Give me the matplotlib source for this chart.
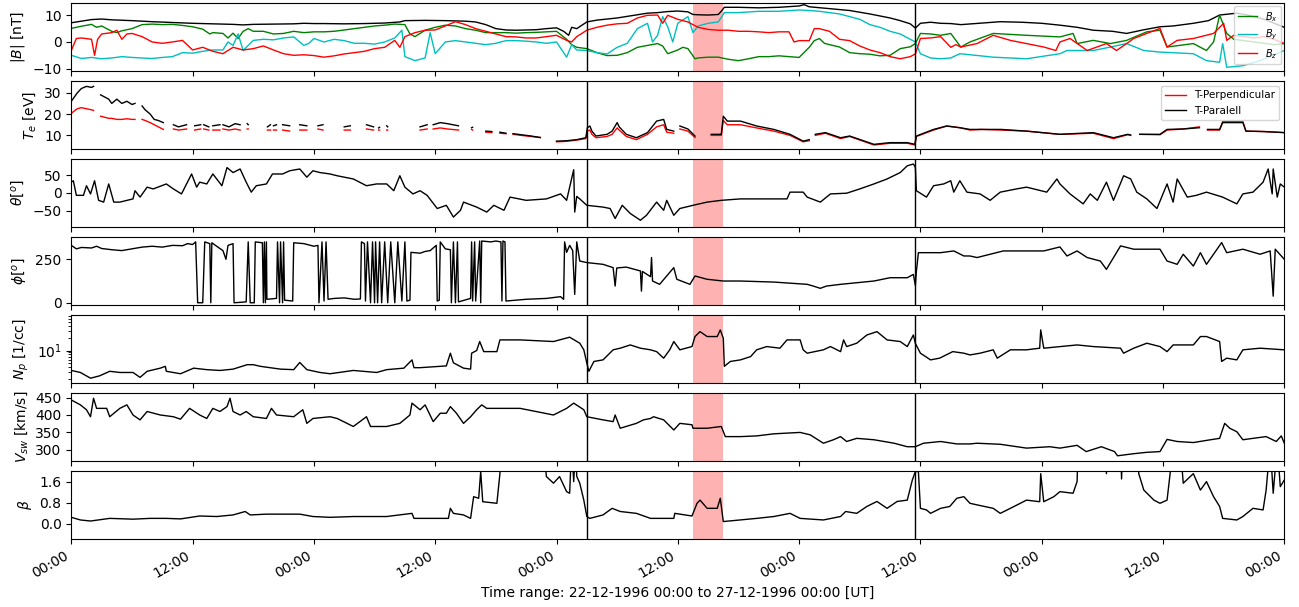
import numpy as np
import matplotlib
matplotlib.use('Agg')
import matplotlib.pyplot as plt
import matplotlib.dates as mdates
from datetime import datetime, timedelta

nan = np.nan
start = datetime(1996, 12, 22)

# (heure depuis le 22-12-1996 00:00, valeur)
bmag = [(0,7.2),(1,7.8),(2,8.4),(3,8.6),(4,8.3),(6,8.0),(8,7.6),(10,7.3),(12,7.0),(14,6.8),(16,6.6),(17,6.4),(18,6.6),(20,6.7),(22,6.8),(23,7.0),(24,6.9),(25,6.9),(27,6.8),(29,6.9),(31,7.1),(32.5,7.5),(33,8.0),(35,8.1),(37,8.0),(39,7.8),(40,7.5),(41,6.5),(42,5.0),(43,4.5),(44,4.4),(46,4.6),(47,5.0),(48,5.3),(48.7,4.0),(49.2,2.5),(49.5,5.5),(50,5.0),(51,7.5),(52,8.2),(53,8.6),(54,9.0),(55,9.6),(56,10.2),(57,10.8),(58,11.0),(59,11.4),(60,11.6),(61,11.3),(61.5,10.3),(62,10.2),(63,10.1),(64,10.3),(64.3,11.5),(64.6,13.0),(66,13.0),(68,12.8),(70,13.0),(72,13.5),(72.5,14.0),(73,13.2),(75,12.5),(77,11.8),(79,10.5),(81,9.0),(82,8.0),(83,6.8),(83.5,5.2),(84,7.0),(85,7.4),(86,7.0),(87,6.9),(88,6.5),(91.9,7.6),(94,7.4),(96,7.0),(97.8,6.3),(99.5,5.5),(101.1,4.4),(103,4.0),(104.4,3.2),(106,4.5),(107.7,5.7),(109,6.0),(111,7.0),(112.5,8.0),(113.6,10.1),(115.3,10.8),(116.5,10.0),(118,8.5),(119,7.0),(120,5.5)]

bx = [(0,5.1),(0.5,5.5),(1,5.9),(2,6.6),(2.5,5.5),(3,6.0),(4,4.0),(4.5,3.5),(5,4.2),(6,5.0),(7,6.5),(8,6.7),(9,6.5),(10,6.6),(11,6.2),(12,5.7),(13,4.8),(13.7,3.0),(14,3.5),(15,3.2),(15.5,1.5),(16,3.3),(16.5,1.3),(17,4.0),(17.5,5.0),(18,4.0),(19,4.0),(20,3.0),(21,3.2),(22,4.0),(23,3.5),(24,3.8),(25,3.8),(26,4.0),(27,4.5),(28,5.0),(29,5.5),(30,6.0),(31,6.3),(32,6.7),(33,6.5),(33.5,3.0),(34,2.0),(35,4.4),(36,5.5),(37,6.3),(38,6.0),(39,5.0),(40,4.4),(41,3.5),(42,3.5),(43,3.5),(44,3.3),(45,3.5),(46,3.6),(47,3.8),(48,4.0),(49,1.0),(49.5,-1.0),(50,-2.0),(51,-2.5),(52,-4.0),(53,-5.1),(54,-5.0),(55,-4.0),(56,-2.0),(57,-1.3),(58,-0.6),(58.5,-1.5),(59,-4.4),(60,-3.0),(60.5,-2.0),(61,-2.5),(61.7,-6.3),(62,-6.0),(63,-5.7),(64,-5.7),(65,-6.5),(66,-7.0),(67,-6.3),(68,-5.5),(69,-5.5),(70,-5.2),(71,-5.5),(72,-5.8),(73,-2.0),(73.5,0.5),(74,1.3),(74.5,-0.5),(75,-1.0),(76,-1.9),(77,-4.0),(78,-4.4),(79,-4.6),(80,-5.2),(81,-5.0),(82,-2.5),(83,-1.8),(83.5,-0.6),(84,3.2),(85,3.0),(86,2.5),(87,3.2),(88,-1.9),(88.9,0.0),(91.2,3.2),(94.5,2.5),(97.8,1.9),(99.1,3.2),(99.5,-0.6),(101.1,0.6),(102.8,-0.6),(104.4,0.6),(106.4,3.8),(107.7,4.4),(108.4,-1.9),(111.0,-0.6),(112.3,-3.2),(113.0,0.0),(113.6,10.1),(114.3,3.2),(115,1.0),(116,0.5),(117,0.0),(118,-0.5),(119,-1.0),(120,-0.6)]

by = [(0,-5.0),(1,-6.2),(2,-5.8),(3,-6.3),(4,-6.0),(5,-5.5),(6,-5.8),(7,-6.0),(8,-6.2),(9,-5.8),(10,-5.5),(11,-4.0),(12,-4.2),(13,-3.5),(14,-3.0),(15,-3.0),(15.5,0.0),(16,-1.3),(16.5,3.0),(17,-3.2),(18,0.6),(19,1.0),(20,0.8),(21,1.5),(22,1.9),(23,-1.3),(23.5,-0.5),(24,1.3),(25,0.0),(26,1.0),(27,0.5),(28,-0.5),(29,-0.5),(30,-0.8),(31,0.0),(32,1.5),(32.7,4.4),(33,-5.5),(34,-7.0),(35,-6.0),(35.5,3.5),(36,-4.4),(37,0.0),(38,0.5),(39,0.0),(40,-0.5),(41,-1.0),(42,-0.5),(43,0.5),(44,0.5),(45,0.3),(46,0.0),(47,-0.5),(48,0.0),(49,-5.7),(49.5,-1.0),(50,-3.0),(51,-3.2),(52,-4.0),(53,-4.5),(54,-2.0),(55,-0.5),(56,5.0),(57,7.0),(57.5,0.0),(58,2.5),(58.5,9.5),(59,5.7),(59.5,0.0),(60,7.0),(61,9.5),(61.5,3.5),(62,6.0),(63,7.0),(64,7.5),(64.6,11.0),(66,11.0),(68,11.5),(70,11.5),(72,12.0),(73,11.8),(74,11.5),(75,11.0),(76,10.5),(77,9.5),(78,8.5),(79,6.5),(80,5.5),(81,4.0),(82,3.0),(83,1.0),(83.5,0.0),(84,-4.4),(85,-6.0),(86,-6.3),(87,-6.0),(87.9,-4.4),(91.2,-5.7),(94.5,-6.3),(97.8,-4.4),(98.5,-3.2),(101.1,-3.2),(102.8,-1.9),(104.4,-0.6),(106.1,-3.2),(107.7,-3.8),(111.0,-4.4),(112.3,-7.0),(113.6,-7.6),(113.9,-0.6),(114.3,-9.5),(115.9,-8.9),(117.6,-7.0),(120.0,-3.2)]

bz = [(0,-3.2),(0.5,1.3),(1,1.5),(2,1.0),(2.3,-5.0),(2.6,1.0),(3,3.0),(4,3.5),(4.5,4.4),(5,1.0),(5.5,3.0),(6,3.2),(7,2.0),(7.5,1.0),(8,0.0),(9,-0.5),(10,0.0),(11,0.6),(12,-3.0),(13,-2.0),(14,-3.5),(15,-4.4),(16,-2.0),(17,-3.0),(18,-2.5),(19,-1.5),(20,-3.0),(21,-4.4),(22,-5.0),(23,-4.8),(24,-5.1),(25,-5.7),(26,-5.2),(27,-4.5),(28,-4.0),(29,-3.5),(30,-2.5),(31,-2.0),(32,0.6),(32.5,-2.0),(33,2.0),(34,3.5),(35,4.4),(36,4.5),(37,6.0),(38,7.6),(39,6.5),(40,5.0),(41,4.0),(42,3.0),(43,2.0),(44,1.9),(45,1.5),(46,1.5),(47,2.0),(48,2.5),(49,0.6),(49.5,0.0),(50,2.0),(51,4.4),(52,5.5),(53,6.3),(54,6.8),(55,7.0),(56,9.0),(57,10.0),(58,10.1),(58.5,7.0),(59,10.0),(60,8.5),(61,7.5),(62,5.5),(63,4.7),(64,4.4),(65,4.4),(66,4.0),(67,4.0),(68,3.8),(69,3.5),(70,3.8),(71,3.8),(71.5,0.0),(72,0.5),(73,0.5),(73.5,5.0),(74,5.0),(75,4.0),(76,1.0),(77,0.5),(78,-1.5),(79,-3.0),(80,-4.0),(81,-5.5),(82,-6.3),(83,-5.5),(83.5,-4.5),(84,1.3),(85,1.5),(86,2.0),(87,-2.0),(87.5,-1.0),(88,-1.9),(89.6,-0.6),(91.2,2.5),(92.9,0.6),(94.5,-0.6),(96.2,-1.9),(97.4,-3.2),(97.8,0.0),(98.8,1.3),(100.5,-3.2),(102.4,-0.6),(103.4,-3.2),(104.4,-0.6),(105.1,1.3),(106.4,3.2),(107.7,5.1),(108.4,-1.9),(109.4,0.6),(111.0,1.3),(113.0,3.2),(114.0,7.0),(114.3,0.6),(115,2.5),(116,2.0),(117,1.5),(118,2.0),(119,1.0),(120,-0.6)]

# (heure, T-Paralell, T-Perpendicular), nan = pas de données
te = [(0,26,20.3),(0.3,28,21.5),(0.6,30,22.5),(1.0,32,23),(1.5,33,22.5),(2.0,32.5,22),(2.2,33,21.7),(2.5,nan,nan),
      (2.9,29,19),(3.3,28,18.5),(3.7,27,18),(4.0,25,18),(4.5,27,17.5),(5.0,25,17.5),(5.5,26,17.8),(6.0,24.5,17.5),(6.3,25,17.5),(6.6,nan,nan),
      (7.0,23.8,17.5),(7.3,22,17),(7.8,20,16),(8.2,17.5,15),(8.6,17,14),(9.1,16,12.8),(9.5,nan,nan),
      (10.1,15,13),(10.6,14,12.5),(11.4,15,13),(11.6,nan,nan),
      (12.2,14.5,12.5),(12.8,15,13),(12.9,nan,nan),
      (13.1,15,13),(13.6,14,12.5),(13.7,nan,nan),
      (14.0,14.5,12.5),(14.7,15,12.5),(14.8,nan,nan),
      (15.0,15,13),(15.6,14,12.5),(16.2,15.5,13),(16.7,15,12.5),(16.8,nan,nan),
      (17.4,15.5,13),(17.5,15,13),(17.6,nan,nan),
      (19.4,14,12.5),(19.7,15,12.5),(19.8,nan,nan),
      (20.0,14.5,12.5),(20.3,15,12.5),(20.4,nan,nan),
      (20.9,15,12.5),(21.6,14.5,12),(21.7,nan,nan),
      (22.6,15,12.5),(23.3,14.5,12.5),(23.4,nan,nan),
      (24.4,14.5,13),(24.9,15,12.5),(25.0,nan,nan),
      (27.0,14,12.5),(27.6,14.5,12.5),(27.7,nan,nan),
      (29.2,15,13),(29.9,14,12.5),(30.0,nan,nan),
      (30.4,13.5,12.5),(30.5,13.8,12.5),(30.6,nan,nan),
      (31.2,14.5,12.5),(31.3,14,12.5),(31.4,nan,nan),
      (34.5,14,12.5),(35.2,15,13),(35.3,nan,nan),
      (35.8,15,13),(36.5,16,13.5),(37.2,15.5,13),(38.3,14.5,12.5),(38.4,nan,nan),
      (39.6,13.6,12.8),(39.7,13.8,12.5),(39.8,nan,nan),
      (41.0,12,11.5),(41.6,11.8,11.3),(41.7,nan,nan),
      (42.4,11.5,11),(43.0,11,10.8),(43.1,nan,nan),
      (43.7,10.8,10.5),(44.5,10.3,10),(45.5,9.7,9.5),(46.4,9,9),(46.5,nan,nan),
      (48.0,7.3,7.0),(49.0,7.5,7.2),(50.0,8.0,7.8),(50.9,8.9,8.5),(51.05,13.6,12),(51.3,14.4,12.5),(51.5,12,10.5),(51.9,9.7,8.9),(53.0,10.5,9.5),(53.5,12,10.5),(54.0,16,13.5),(54.2,14,12.5),(54.9,10.5,9.5),(55.9,8.9,8.0),(57.0,11.3,10.5),(57.9,16.7,14),(58.6,17.5,15),(58.9,12.8,11.5),(59.6,12,11),(59.8,nan,nan),
      (60.2,14.4,13),(61.0,13,12),(61.7,9.7,9),(61.9,nan,nan),
      (63.3,10.5,10),(64.3,10.5,10),(64.5,19,17),(64.9,16.7,15),(66.2,16.7,15),(67.8,14.4,13.5),(69.5,12.8,12),(71.1,10.5,10),(72.4,7.3,7),(73.0,8,7.5),(73.2,nan,nan),
      (73.6,10.5,10),(74.6,11.3,11),(76.1,8.9,8.5),(77.0,9.7,9.5),(79.4,5.8,5.5),(81.0,6.6,6.3),(82.7,6.6,6.3),(83.45,5.8,5.5),(83.6,9.7,9.5),(85.3,12.8,12.5),(86.6,14.4,14.4),(87.9,13.6,13.6),(88.9,12.8,12.5),(90,12.8,12.8),(92,12.8,12.5),(94.5,12,12),(97.8,10.5,10.5),(101.1,11.3,11),(103.1,8.9,8.5),(104.5,10.5,10.3),(104.8,10.2,10),(105.1,nan,nan),
      (105.7,10.5,10.5),(107.7,10.5,10.3),(108.4,12.8,12.5),(110.0,13,13),(111.6,13.6,14),(111.8,nan,nan),
      (112.4,12.8,12.5),(113.6,12.8,12.5),(113.9,16,16.5),(115.9,16,16.5),(116.2,12,12),(118.0,11.8,11.8),(120.0,11.3,11.3)]

theta = [(0,30),(0.2,34),(0.5,-7),(1.2,-7),(1.5,20),(1.9,-3),(2.3,34),(2.7,-21),(3.2,-26),(3.7,25),(4.2,-26),(4.8,-26),(5.5,-21),(6.1,-17),(6.3,6),(6.8,-12),(7.5,16),(8.1,11),(9.4,25),(10.1,11),(10.9,-3),(11.4,25),(11.9,53),(12.4,16),(12.7,30),(13.4,25),(14.0,53),(14.9,20),(15.4,71),(16.0,57),(16.7,67),(17.3,30),(17.8,2),(18.3,20),(19.3,25),(19.9,53),(20.9,53),(21.6,62),(22.6,67),(23.3,44),(23.9,62),(24.6,57),(25.6,53),(26.3,48),(27.9,39),(29.2,20),(30.2,25),(31.2,25),(31.9,6),(32.5,48),(33.0,16),(33.8,-3),(34.5,6),(35.2,-7),(36.2,-44),(37.1,-35),(37.8,-68),(38.5,-49),(38.8,-26),(40.1,-40),(41.1,-54),(41.8,-35),(42.8,-49),(43.4,-12),(45.0,-21),(47.0,-17),(48.4,-3),(49.0,-21),(49.7,65),(49.8,-54),(50.0,-10),(50.3,-17),(51.0,-35),(52.6,-40),(53.3,-44),(53.8,-72),(54.5,-35),(55.3,-58),(56.3,-77),(56.9,-63),(57.9,-26),(58.6,-49),(58.9,-21),(59.6,-63),(60.2,-44),(61.5,-35),(62.9,-26),(64.3,-21),(66.2,-17),(67.8,-17),(70.8,-17),(71.1,2),(72.4,2),(72.8,-12),(74.1,-26),(75.1,-3),(76.7,-1),(78.0,11),(79.4,25),(80.7,39),(82.0,57),(82.7,76),(83.3,81),(83.5,72),(83.6,6),(84.6,-12),(85.3,20),(86.3,25),(87.0,34),(87.3,2),(87.9,34),(88.6,2),(89.9,-3),(90.9,-21),(91.9,2),(93.5,11),(94.5,16),(96.5,2),(97.5,39),(97.8,25),(98.8,-3),(100.1,-31),(100.8,-3),(101.5,-21),(102.4,30),(103.1,-21),(104.1,48),(104.8,39),(105.4,2),(106.4,-17),(107.4,-44),(108.4,25),(109.0,-26),(109.4,39),(110.4,-12),(111.3,-7),(112.3,2),(113.9,-12),(115.3,-31),(115.9,-3),(116.9,2),(117.9,30),(118.4,67),(118.8,-3),(118.9,67),(119.3,-12),(119.6,25),(120.0,16)]

phi = [(0,330),(0.5,310),(1,318),(2,315),(2.5,325),(3,312),(4,305),(5,300),(6,310),(7,320),(8,325),(9,320),(10,330),(11,328),(11.5,340),(12,335),(12.3,350),
       (12.5,0),(13.0,0),(13.2,350),(13.7,340),(13.8,0),(13.9,345),(14.5,320),(15.0,300),(15.3,250),(15.5,330),(16.0,340),(16.1,0),(17.3,5),(17.5,350),(17.7,0),(18.1,0),(18.2,350),(18.9,345),(19.0,0),(19.1,350),(19.2,0),(19.3,350),(19.35,20),(20.3,25),(20.4,350),(20.6,0),(20.7,350),(20.9,0),(21.0,350),(21.1,15),(21.9,10),(22.0,345),(23,340),(24.0,325),(24.4,330),(24.5,0),(24.8,350),(25.0,10),(25.2,350),(25.4,20),(26,25),(27,28),(28,20),(28.6,22),(28.7,350),(29.0,340),(29.1,10),(29.3,350),(29.6,0),(29.8,350),(30.0,0),(30.1,350),(30.3,0),(30.5,350),(30.7,0),(31.0,350),(31.3,0),(31.6,350),(32.0,0),(32.3,350),(32.7,10),(33.0,350),(33.2,10),(33.5,15),(33.6,290),(34.5,285),(35.0,295),(35.5,300),(36.1,330),(36.2,10),(36.4,15),(36.5,350),(37.0,310),(37.5,305),(37.6,0),(37.8,350),(38.0,0),(38.2,350),(38.3,5),(39.5,25),(39.6,350),(39.7,10),(39.9,350),(40.0,10),(40.4,355),(40.5,0),(40.6,355),(41.5,350),(42.0,355),(42.5,350),(42.6,10),(42.7,355),(42.9,350),(43.0,10),(45,20),(47,25),(48.4,35),(48.7,20),(48.8,350),(49.0,290),(49.3,330),(49.6,300),(49.8,48),(50.0,350),(50.3,240),(51.0,231),(52.6,221),(53.6,202),(53.8,96),(53.96,200),(54.9,205),(56.3,183),(56.4,67),(56.5,180),(57.3,150),(57.4,260),(57.5,125),(58.2,106),(59.6,202),(59.9,135),(61.2,106),(61.7,154),(62.9,135),(64.5,125),(66.2,125),(69.5,119),(72.8,106),(73.4,96),(74.1,83),(74.7,96),(76.1,106),(77.7,115),(79.4,125),(81.0,144),(82.7,144),(83.3,163),(83.5,100),(83.6,180),(83.8,288),(86.0,288),(87.3,298),(88.3,269),(88.9,269),(89.6,260),(92.2,298),(96.2,298),(97.8,321),(98.5,269),(99.5,298),(100.5,260),(101.8,240),(102.4,192),(103.1,260),(103.8,327),(105.1,308),(107.7,308),(108.4,240),(109.4,221),(110.0,279),(111.0,211),(111.7,288),(112.3,221),(113.0,279),(113.8,346),(114.3,288),(115.9,308),(117.6,279),(118.6,298),(118.9,38),(119.1,308),(120.0,250)]

npd = [(0,3.25),(0.9,2.9),(1.9,2.1),(2.8,2.4),(3.8,3.1),(4.8,2.9),(6.1,2.9),(6.8,2.2),(7.5,3.1),(8.8,3.7),(9.3,4.1),(9.4,3.1),(10.8,2.7),(12.1,3.7),(13.4,3.4),(14.7,3.25),(16.0,3.5),(17.4,4.5),(18.0,4.5),(18.7,4.1),(20.7,3.5),(22.0,3.4),(22.6,5.1),(23.3,3.4),(24.6,2.9),(25.6,2.7),(27.9,3.25),(30.2,2.9),(31.2,3.4),(32.9,3.7),(33.7,5.9),(33.9,3.8),(34.5,3.8),(37.1,4.2),(37.5,8.6),(37.8,5.0),(38.8,3.7),(39.5,3.5),(39.6,8.6),(40.1,10),(40.4,16.6),(40.8,9.4),(42.1,9.4),(42.4,18.2),(44.4,18.2),(47.7,16.6),(49.3,21.2),(50.3,15.1),(50.7,10.4),(51.0,4.9),(51.2,3.1),(51.7,5.4),(52.6,5.9),(53.6,10.4),(54.3,11.4),(55.3,13.7),(56.3,11.4),(57.3,10.4),(57.9,9.4),(58.6,6.5),(59.2,10.4),(59.6,16.6),(60.2,10.4),(61.4,12.5),(61.7,22),(62.2,29),(62.9,22),(63.9,22),(64.2,32),(64.5,20),(64.6,4.1),(65.2,5.4),(66.2,5.9),(67.2,7.1),(67.8,10.4),(68.8,12.5),(70.1,11.4),(70.8,18.2),(72.1,18.2),(72.4,10.4),(72.8,8.6),(74.4,10.4),(75.1,12.5),(76.1,9.4),(76.4,18.2),(76.7,12.5),(77.7,15.1),(78.7,24),(79.7,29),(80.7,18.2),(82.0,16.6),(82.7,12.5),(83.3,24),(83.5,15),(84.0,8.6),(85.0,5.9),(85.9,6.5),(87.2,9.4),(88.3,8.6),(88.9,7.8),(89.9,8.6),(91.2,10.4),(91.6,6.5),(92.9,10.4),(94.5,10.4),(95.8,11.4),(95.9,32),(96.2,11.4),(97.8,12.5),(99.5,13.7),(101.1,12.5),(103.8,11.4),(104.1,8.6),(105.1,11.4),(106.4,15.1),(107.7,12.5),(108.4,9.4),(109.0,13.7),(111.0,13.7),(111.7,22),(112.3,22),(113.6,16.6),(113.8,5.4),(114.3,6.5),(115.3,5.9),(115.9,10.4),(117.6,11.4),(120.0,10.4)]

vsw = [(0,443),(0.9,429),(1.5,415),(1.9,395),(2.2,448),(2.5,419),(3.5,419),(3.8,395),(4.8,419),(5.5,429),(6.1,400),(6.8,386),(7.5,410),(8.8,400),(10.1,395),(10.8,388),(11.7,419),(12.7,400),(13.4,390),(14.0,419),(14.7,410),(15.4,424),(15.7,448),(16.0,410),(16.7,400),(17.3,410),(18.0,395),(19.3,390),(19.8,419),(20.3,400),(22.0,395),(22.9,415),(23.3,376),(23.9,390),(25.6,395),(26.3,390),(27.9,367),(29.2,395),(29.6,367),(31.2,367),(32.5,376),(33.5,400),(33.7,434),(34.5,415),(35.0,429),(35.8,381),(36.5,405),(37.1,405),(37.5,424),(38.1,405),(38.8,376),(39.5,395),(40.1,415),(40.6,429),(41.1,419),(44.4,419),(47.7,400),(49.0,419),(49.7,434),(50.7,415),(51.0,395),(52.6,386),(53.6,381),(53.8,400),(54.3,362),(55.9,376),(56.6,386),(57.3,390),(57.6,395),(58.6,386),(59.6,357),(60.2,376),(61.4,372),(61.5,362),(62.9,362),(64.3,367),(64.7,338),(66.2,338),(67.8,340),(69.5,346),(72.1,350),(73.1,343),(74.4,319),(75.4,329),(76.1,338),(76.7,324),(77.7,333),(79.4,329),(81.4,319),(82.7,309),(83.5,309),(84.3,319),(86.0,324),(87.6,317),(88.9,317),(89.6,319),(91.9,316),(94.5,305),(96.8,309),(97.8,305),(99.5,313),(100.4,295),(101.9,309),(103.2,295),(103.5,283),(105.1,289),(106.4,293),(107.7,295),(108.4,330),(109.4,324),(111.0,321),(112.7,329),(113.6,333),(114.1,376),(114.6,362),(115.3,352),(115.9,329),(116.9,333),(118.2,338),(119.2,324),(119.7,340),(120.0,319)]

# 3.0 = hors cadre (coupé en haut)
beta = [(0,0.25),(0.9,0.15),(1.9,0.11),(3.8,0.21),(6.1,0.18),(7.8,0.21),(9.4,0.21),(10.8,0.19),(12.7,0.30),(14.4,0.28),(16.0,0.34),(17.2,0.47),(17.7,0.34),(19.3,0.37),(22.6,0.37),(23.9,0.28),(25.6,0.25),(27.9,0.28),(31.2,0.28),(33.7,0.40),(33.9,0.21),(37.3,0.21),(37.5,0.59),(37.8,0.40),(38.8,0.34),(39.5,0.21),(39.8,1.03),(40.3,0.97),(40.5,1.98),(40.7,0.84),(42.1,0.78),(42.4,1.9),(42.6,3.0),(46.7,3.0),(47.0,1.79),(47.7,1.54),(48.3,1.79),(49.0,1.22),(49.3,1.16),(49.5,3.0),(49.7,1.6),(49.9,3.0),(50.0,1.8),(50.3,1.54),(50.7,0.9),(51.0,0.28),(51.3,0.21),(52.6,0.34),(53.5,0.59),(54.3,0.47),(55.9,0.40),(57.3,0.21),(57.9,0.21),(59.6,0.21),(59.7,0.40),(61.4,0.30),(61.9,0.78),(62.2,0.9),(62.9,0.59),(63.9,0.59),(64.2,0.97),(64.5,0.09),(66.2,0.15),(67.8,0.21),(69.5,0.28),(71.1,0.40),(72.1,0.21),(74.4,0.15),(76.1,0.28),(76.6,0.47),(77.7,0.40),(78.7,0.66),(79.7,0.85),(80.7,0.59),(81.7,0.85),(82.7,0.9),(83.2,1.66),(83.5,1.98),(83.8,1.98),(84.0,0.59),(84.6,0.53),(85.0,0.40),(86.0,0.59),(86.9,0.66),(87.6,0.97),(88.3,1.03),(88.9,0.78),(89.6,0.72),(91.2,0.59),(91.9,0.40),(92.9,0.59),(94.5,0.9),(95.8,0.84),(95.9,1.9),(96.2,0.84),(97.2,1.03),(97.8,1.22),(99.1,1.16),(99.5,1.6),(99.6,3.0),(102.3,3.0),(102.4,1.9),(102.5,3.0),(103.8,3.0),(103.9,1.7),(104.0,3.0),(105.4,3.0),(105.6,1.9),(106.1,1.28),(107.1,0.9),(107.7,0.78),(108.4,0.9),(108.7,1.9),(108.9,3.0),(109.7,3.0),(110.0,1.54),(111.0,1.9),(111.7,1.28),(112.3,1.6),(113.0,1.03),(113.6,0.66),(113.9,0.21),(115.3,0.15),(115.9,0.28),(116.9,0.59),(117.9,0.53),(118.2,1.28),(118.6,3.0),(118.9,1.16),(119.3,3.0),(119.6,1.41),(120.0,1.66)]

events = [51.0, 83.5]     # lignes verticales (heures)
shade = (61.5, 64.5)      # zone rouge


def to_dates(hours):
    return [start + timedelta(hours=float(h)) for h in hours]


def split(pairs):
    arr = np.array(pairs, dtype=float)
    return to_dates(arr[:, 0]), arr[:, 1:]


fig, axes = plt.subplots(7, 1, sharex=True, figsize=(12.99, 6.07), dpi=100)
fig.subplots_adjust(left=0.0549, right=0.9887, top=0.995, bottom=0.112, hspace=0.147)

# |B|
ax = axes[0]
t, v = split(bmag)
ax.plot(t, v[:, 0], color='k', lw=1)
for data, c, lab in [(bx, 'g', '$B_x$'), (by, 'c', '$B_y$'), (bz, 'r', '$B_z$')]:
    t, v = split(data)
    ax.plot(t, v[:, 0], color=c, lw=1, label=lab)
ax.set_ylim(-10.9, 14.6)
ax.set_yticks([-10, 0, 10])
ax.set_ylabel('$|B|$ [nT]')
ax.legend(loc='upper right', fontsize=7, labelspacing=0.45, borderaxespad=0.3)

# Te
ax = axes[1]
t, v = split(te)
ax.plot(t, v[:, 1], color='r', lw=1, label='T-Perpendicular')
ax.plot(t, v[:, 0], color='k', lw=1, label='T-Paralell')
ax.set_ylim(3.6, 35.5)
ax.set_yticks([10, 20, 30])
ax.set_ylabel('$T_e$ [eV]')
ax.legend(loc='upper right', fontsize=7.5)

# theta
ax = axes[2]
t, v = split(theta)
ax.plot(t, v[:, 0], color='k', lw=1)
ax.set_ylim(-96, 95)
ax.set_yticks([-50, 0, 50])
ax.set_ylabel(r'$\theta[^o]$')

# phi
ax = axes[3]
t, v = split(phi)
ax.plot(t, v[:, 0], color='k', lw=1)
ax.set_ylim(-13, 378)
ax.set_yticks([0, 250])
ax.set_ylabel(r'$\phi[^o]$')

# Np
ax = axes[4]
t, v = split(npd)
ax.plot(t, v[:, 0], color='k', lw=1)
ax.set_yscale('log')
ax.set_ylim(1.6, 74)
ax.set_ylabel('$N_p$ [1/cc]')

# Vsw
ax = axes[5]
t, v = split(vsw)
ax.plot(t, v[:, 0], color='k', lw=1)
ax.set_ylim(268, 463)
ax.set_yticks([300, 350, 400, 450])
ax.set_ylabel('$V_{sw}$ [km/s]')

# beta
ax = axes[6]
t, v = split(beta)
ax.plot(t, v[:, 0], color='k', lw=1)
ax.set_ylim(-0.57, 2.0)
ax.set_yticks([0.0, 0.8, 1.6])
ax.set_ylabel(r'$\beta$')

for ax in axes:
    for e in events:
        ax.axvline(start + timedelta(hours=e), color='k', lw=1)
    ax.axvspan(start + timedelta(hours=shade[0]), start + timedelta(hours=shade[1]),
               color='red', alpha=0.3, lw=0)

axes[-1].set_xlim(start, start + timedelta(days=5))
axes[-1].xaxis.set_major_locator(mdates.HourLocator(byhour=[0, 12]))
axes[-1].xaxis.set_major_formatter(mdates.DateFormatter('%H:%M'))
plt.setp(axes[-1].get_xticklabels(), rotation=30, ha='right')
axes[-1].set_xlabel('Time range: 22-12-1996 00:00 to 27-12-1996 00:00 [UT]')

fig.savefig('out.png', dpi=100)
